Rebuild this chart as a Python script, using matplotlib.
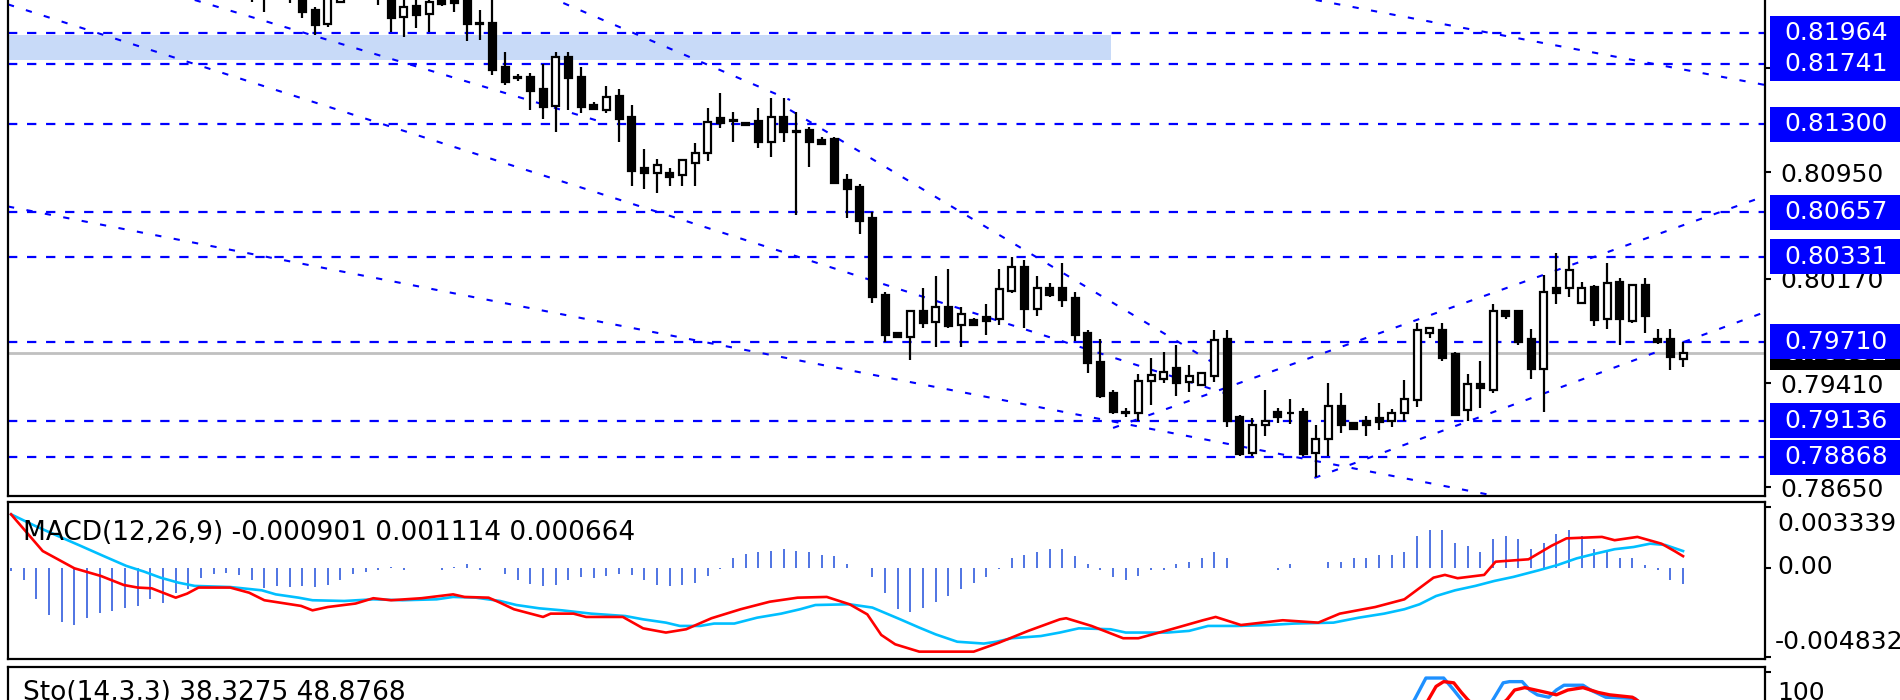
import matplotlib
matplotlib.use("Agg")
import matplotlib.pyplot as plt
import numpy as np
from matplotlib.patches import Rectangle
from matplotlib.transforms import blended_transform_factory

plt.rcParams['font.family'] = ['DejaVu Sans']
plt.rcParams['lines.scale_dashes'] = False

# ---- price data (bars 19..132) ----
first_bar = 19
opens = [0.82353, 0.82304, 0.82240, 0.82280, 0.82256, 0.82134, 0.82032, 0.82195, 0.82270, 0.82330,
         0.82256, 0.82244, 0.82085, 0.82163, 0.82105, 0.82219, 0.82226, 0.82231, 0.82041, 0.82041,
         0.81720, 0.81647, 0.81647, 0.81555, 0.81433, 0.81788, 0.81647, 0.81440, 0.81404, 0.81508,
         0.81350, 0.80978, 0.80941, 0.80946, 0.80929, 0.81014, 0.81087, 0.81343, 0.81331, 0.81311,
         0.81326, 0.81173, 0.81350, 0.81248, 0.81258, 0.81185, 0.81190, 0.80893, 0.80844, 0.80613,
         0.80053, 0.79773, 0.79744, 0.79939, 0.79858, 0.79963, 0.79834, 0.79870, 0.79895, 0.79875,
         0.80083, 0.80260, 0.79948, 0.80102, 0.80102, 0.80029, 0.79773, 0.79566, 0.79335, 0.79199,
         0.79189, 0.79425, 0.79437, 0.79517, 0.79420, 0.79396, 0.79461, 0.79729, 0.79160, 0.78902,
         0.79100, 0.79201, 0.79194, 0.79201, 0.78902, 0.78999, 0.79242, 0.79116, 0.79135, 0.79152,
         0.79135, 0.79189, 0.79286, 0.79773, 0.79797, 0.79622, 0.79213, 0.79403, 0.79359, 0.79939,
         0.79939, 0.79729, 0.79510, 0.80102, 0.80102, 0.79997, 0.80109, 0.79875, 0.80150, 0.79866,
         0.80126, 0.79729, 0.79729, 0.79583]
highs = [0.82402, 0.82377, 0.82330, 0.82329, 0.82304, 0.82158, 0.82256, 0.82317, 0.82360, 0.82400,
         0.82304, 0.82292, 0.82219, 0.82212, 0.82231, 0.82256, 0.82256, 0.82268, 0.82134, 0.82219,
         0.81830, 0.81667, 0.81672, 0.81740, 0.81830, 0.81830, 0.81720, 0.81463, 0.81579, 0.81555,
         0.81440, 0.81117, 0.81044, 0.80978, 0.81049, 0.81160, 0.81416, 0.81530, 0.81391, 0.81311,
         0.81416, 0.81489, 0.81489, 0.81391, 0.81282, 0.81209, 0.81209, 0.80936, 0.80863, 0.80661,
         0.80077, 0.79778, 0.79939, 0.80102, 0.80192, 0.80240, 0.79963, 0.79883, 0.79987, 0.80240,
         0.80333, 0.80308, 0.80192, 0.80143, 0.80284, 0.80077, 0.79797, 0.79729, 0.79359, 0.79225,
         0.79476, 0.79590, 0.79639, 0.79688, 0.79542, 0.79493, 0.79797, 0.79797, 0.79177, 0.79152,
         0.79359, 0.79225, 0.79291, 0.79225, 0.79104, 0.79408, 0.79335, 0.79128, 0.79169, 0.79267,
         0.79218, 0.79432, 0.79846, 0.79814, 0.79846, 0.79639, 0.79476, 0.79573, 0.79987, 0.79939,
         0.79939, 0.79802, 0.80199, 0.80357, 0.80338, 0.80150, 0.80126, 0.80284, 0.80175, 0.80126,
         0.80175, 0.79802, 0.79802, 0.79712]
lows = [0.82195, 0.82122, 0.82215, 0.82188, 0.82073, 0.81951, 0.82007, 0.82188, 0.82230, 0.82250,
        0.82170, 0.81971, 0.81934, 0.82000, 0.81971, 0.82163, 0.82122, 0.81910, 0.81915, 0.81659,
        0.81586, 0.81616, 0.81404, 0.81336, 0.81246, 0.81404, 0.81379, 0.81404, 0.81379, 0.81173,
        0.80849, 0.80824, 0.80800, 0.80849, 0.80849, 0.80849, 0.81034, 0.81270, 0.81173, 0.81287,
        0.81124, 0.81058, 0.81173, 0.80637, 0.80990, 0.81148, 0.80868, 0.80613, 0.80498, 0.79992,
        0.79712, 0.79744, 0.79578, 0.79810, 0.79671, 0.79810, 0.79671, 0.79834, 0.79761, 0.79834,
        0.80065, 0.79810, 0.79900, 0.80041, 0.79968, 0.79719, 0.79486, 0.79298, 0.79184, 0.79164,
        0.79135, 0.79250, 0.79413, 0.79315, 0.79347, 0.79396, 0.79420, 0.79091, 0.78877, 0.78877,
        0.79023, 0.79116, 0.79111, 0.78877, 0.78722, 0.78877, 0.79043, 0.79072, 0.79023, 0.79067,
        0.79091, 0.79135, 0.79233, 0.79736, 0.79573, 0.79170, 0.79135, 0.79225, 0.79340, 0.79875,
        0.79688, 0.79437, 0.79201, 0.79987, 0.80036, 0.79992, 0.79827, 0.79802, 0.79688, 0.79851,
        0.79778, 0.79695, 0.79505, 0.79530]
closes = [0.82256, 0.82219, 0.82300, 0.82231, 0.82122, 0.82024, 0.82231, 0.82268, 0.82330, 0.82280,
          0.82219, 0.82073, 0.82153, 0.82097, 0.82195, 0.82178, 0.82188, 0.82032, 0.82032, 0.81696,
          0.81611, 0.81640, 0.81545, 0.81428, 0.81788, 0.81635, 0.81428, 0.81409, 0.81501, 0.81336,
          0.80961, 0.80941, 0.81002, 0.80912, 0.81039, 0.81092, 0.81319, 0.81306, 0.81321, 0.81297,
          0.81173, 0.81350, 0.81246, 0.81243, 0.81173, 0.81153, 0.80873, 0.80824, 0.80596, 0.80041,
          0.79761, 0.79744, 0.79939, 0.79851, 0.79963, 0.79827, 0.79914, 0.79834, 0.79866, 0.80094,
          0.80260, 0.79948, 0.80102, 0.80053, 0.80016, 0.79761, 0.79554, 0.79315, 0.79201, 0.79189,
          0.79427, 0.79469, 0.79493, 0.79413, 0.79461, 0.79481, 0.79724, 0.79135, 0.78895, 0.79104,
          0.79135, 0.79164, 0.79189, 0.78895, 0.78999, 0.79242, 0.79100, 0.79072, 0.79100, 0.79128,
          0.79194, 0.79291, 0.79797, 0.79814, 0.79590, 0.79177, 0.79403, 0.79371, 0.79939, 0.79900,
          0.79712, 0.79510, 0.80077, 0.80065, 0.80235, 0.80102, 0.79870, 0.80143, 0.79875, 0.80126,
          0.79900, 0.79712, 0.79598, 0.79632]

current_price = 0.79632
levels = [0.81964, 0.81741, 0.81300, 0.80657, 0.80331, 0.79710, 0.79136, 0.78868]
price_ticks = [0.81710, 0.80950, 0.80170, 0.79410, 0.78650]
price_tick_labels = ['', '0.80950', '0.80170', '0.79410', '0.78650']  # top one sits under a level box
zone_low, zone_high, zone_end = 0.81769, 0.81951, 86.8

# trend lines: (bar0, price0, bar1, price1)
trend_lines = [
    (-0.24, 0.82175, 97.0, 0.79301),
    (14.5, 0.82207, 46.5, 0.81320),
    (43.6, 0.82185, 61.5, 0.81477),
    (61.5, 0.81404, 94.8, 0.79564),
    (-0.24, 0.80699, 117.6, 0.78578),
    (103.0, 0.82207, 138.5, 0.81586),
    (87.0, 0.79082, 138.5, 0.80776),
    (102.9, 0.78717, 138.5, 0.79929),
]

# ---- MACD ----
macd_hist = [-0.00015, -0.00065, -0.00169, -0.00254, -0.00291, -0.00309, -0.00272, -0.00242, -0.00232, -0.00214,
             -0.00205, -0.00169, -0.00187, -0.00133, -0.00114, -0.00051, -0.00033, -0.00024, -0.00036, -0.00065,
             -0.00105, -0.00096, -0.00102, -0.00096, -0.00102, -0.00091, -0.00065, -0.00033, -0.00018, -0.00011,
             0.00007, -0.00011, 0.0, 0.0, -0.00011, 0.00007, 0.00022, -0.00011, 0.0, -0.00029,
             -0.00065, -0.00087, -0.00096, -0.00091, -0.00065, -0.00047, -0.00051, -0.00042, -0.00029, -0.00036,
             -0.00065, -0.00091, -0.00096, -0.00091, -0.00078, -0.00042, -0.00005, 0.00054, 0.00080, 0.00091,
             0.00094, 0.00104, 0.00094, 0.00091, 0.00073, 0.00067, 0.00022, 0.0, -0.00047, -0.00133,
             -0.00223, -0.00236, -0.00218, -0.00182, -0.00151, -0.00114, -0.00078, -0.00047, -0.00005, 0.00054,
             0.00073, 0.00091, 0.00104, 0.00104, 0.00067, 0.00022, -0.00011, -0.00047, -0.00065, -0.00042,
             -0.00011, -0.00011, 0.00022, 0.00036, 0.00054, 0.00091, 0.00054, 0.0, 0.0, 0.0,
             -0.00011, 0.00022, 0.0, 0.0, 0.00036, 0.00036, 0.00054, 0.00054, 0.00073, 0.00073,
             0.00091, 0.00176, 0.00207, 0.00207, 0.00140, 0.00122, 0.00091, 0.00158, 0.00176, 0.00158,
             0.00104, 0.00140, 0.00189, 0.00207, 0.00176, 0.00104, 0.00091, 0.00054, 0.00054, 0.00018,
             -0.00011, -0.00065, -0.00084]
red_x = [0.0, 2.5, 3.7, 5.0, 7.1, 8.9, 10.0, 11.1, 13.0, 13.9, 14.8, 17.3, 18.8, 20.0, 22.9, 23.8, 25.0,
         27.2, 28.6, 30.0, 32.4, 34.9, 35.8, 37.7, 38.6, 39.7, 42.0, 42.6, 44.4, 45.4, 48.3, 49.9, 51.7,
         53.3, 55.3, 57.6, 59.9, 62.1, 64.4, 66.2, 67.6, 68.7, 69.8, 71.7, 76.0, 78.0, 80.3, 82.8, 83.3,
         85.3, 87.8, 89.0, 91.6, 94.1, 95.1, 97.1, 100.4, 103.2, 104.9, 107.7, 110.0, 112.3, 113.2, 114.2,
         116.3, 117.2, 119.8, 121.6, 122.8, 125.6, 126.6, 128.4, 130.3, 131.4, 132.0]
red_v = [0.00294, 0.00094, 0.00049, 0.0, -0.00042, -0.00091, -0.00105, -0.00109, -0.00160, -0.00138,
         -0.00105, -0.00105, -0.00133, -0.00174, -0.00205, -0.00229, -0.00211, -0.00192, -0.00163, -0.00174,
         -0.00163, -0.00142, -0.00156, -0.00160, -0.00187, -0.00223, -0.00265, -0.00247, -0.00247, -0.00265,
         -0.00265, -0.00327, -0.00350, -0.00332, -0.00272, -0.00223, -0.00182, -0.00160, -0.00156, -0.00196,
         -0.00251, -0.00363, -0.00414, -0.00454, -0.00454, -0.00405, -0.00341, -0.00278, -0.00272, -0.00314,
         -0.00381, -0.00381, -0.00332, -0.00283, -0.00265, -0.00309, -0.00283, -0.00296, -0.00247, -0.00211,
         -0.00169, -0.00051, -0.00036, -0.00054, -0.00036, 0.00036, 0.00049, 0.00122, 0.00163, 0.00171,
         0.00153, 0.00171, 0.00134, 0.00091, 0.00066]
cyan_x = [0.0, 1.9, 3.7, 5.5, 7.3, 9.1, 10.5, 11.8, 13.2, 14.5, 17.3, 19.8, 20.9, 22.7, 23.8, 26.3, 28.6,
          30.9, 33.6, 34.9, 36.7, 38.6, 39.9, 41.7, 43.5, 45.8, 48.5, 49.9, 51.7, 52.8, 54.4, 55.5, 57.1,
          58.9, 60.8, 62.3, 63.5, 66.2, 68.0, 70.2, 71.7, 73.0, 74.7, 76.8, 77.8, 79.0, 81.3, 82.8, 84.3,
          86.8, 88.0, 91.3, 93.0, 94.5, 96.8, 99.3, 101.3, 104.4, 106.4, 108.4, 110.0, 111.2, 112.5, 114.0,
          115.6, 117.1, 118.6, 120.6, 122.1, 123.6, 125.1, 126.6, 128.1, 129.4, 130.6, 132.0]
cyan_v = [0.00294, 0.00231, 0.00176, 0.00122, 0.00067, 0.00013, -0.00018, -0.00051, -0.00078, -0.00096,
          -0.00102, -0.00120, -0.00142, -0.00160, -0.00174, -0.00178, -0.00169, -0.00174, -0.00169, -0.00156,
          -0.00160, -0.00178, -0.00200, -0.00218, -0.00229, -0.00247, -0.00260, -0.00278, -0.00296, -0.00314,
          -0.00314, -0.00301, -0.00301, -0.00269, -0.00247, -0.00223, -0.00200, -0.00196, -0.00214, -0.00278,
          -0.00323, -0.00360, -0.00400, -0.00410, -0.00400, -0.00381, -0.00369, -0.00350, -0.00327, -0.00332,
          -0.00350, -0.00350, -0.00341, -0.00314, -0.00314, -0.00309, -0.00301, -0.00296, -0.00269, -0.00247,
          -0.00223, -0.00196, -0.00151, -0.00120, -0.00096, -0.00069, -0.00047, -0.00011, 0.00018, 0.00054,
          0.00080, 0.00104, 0.00116, 0.00134, 0.00127, 0.00094]
macd_ticks = [0.003339, 0.0, -0.004832]

# ---- Stochastic ----
sto_k_x = [109.5, 110.8, 111.7, 113.1, 113.9, 114.5, 115.8, 117.0, 117.8, 118.3, 119.3, 119.9, 120.5,
           121.4, 122.0, 122.6, 124.1, 124.7, 125.9, 128.2, 130.5, 132.0]
sto_k_v = [55, 77, 95, 95, 85, 77, 55, 77, 91, 92, 92, 85, 81, 79, 85, 89, 89, 85, 79, 78, 55, 38.3]
sto_d_x = [111.0, 111.9, 112.5, 113.1, 113.9, 114.5, 115.0, 116.5, 118.1, 118.7, 119.5, 121.2, 122.0,
           122.9, 124.1, 125.3, 126.2, 128.0, 130.0, 132.0]
sto_d_v = [60, 77, 88, 92, 91, 83, 77, 62, 77, 85, 87, 83, 81, 85, 87, 83, 81, 79, 65, 48.9]

W, H = 1900, 700
fig = plt.figure(figsize=(19, 7), dpi=100)
fig.patch.set_facecolor('white')


def px_axes(x0, y0, x1, y1):
    return fig.add_axes([x0 / W, 1 - y1 / H, (x1 - x0) / W, (y1 - y0) / H])


XLIM = (-0.24, 138.47)
BLUE = '#0000FF'
FS = 18      # right-hand scale labels
FS_T = 19    # indicator titles

# ---------------- main panel ----------------
ax = px_axes(8, 0, 1765, 496)
ymin, ymax = 0.78585, 0.82207
ax.set_xlim(*XLIM)
ax.set_ylim(ymin, ymax)
ppx = (ymax - ymin) / 496.0

ax.add_patch(Rectangle((XLIM[0] - 1, zone_low), zone_end - XLIM[0] + 1, zone_high - zone_low,
                       facecolor='#C8DAF8', edgecolor='none', zorder=0))
ax.axhline(current_price, color='#C0C0C0', lw=2.0, zorder=1)
for lv in levels:
    ax.axhline(lv, color=BLUE, lw=1.6, ls=(0, (6.7, 7.0)), zorder=2)
for b0, p0, b1, p1 in trend_lines:
    ax.plot([b0, b1], [p0, p1], color=BLUE, lw=1.5, ls=(0, (4.5, 9.0)), zorder=2)

o = np.array(opens); h = np.array(highs); l = np.array(lows); c = np.array(closes)
bars = np.arange(first_bar, first_bar + len(o))
up = c >= o
ax.vlines(bars, l, h, color='black', lw=1.6, zorder=3)
ax.bar(bars, np.abs(c - o), bottom=np.minimum(o, c), width=0.55,
       color=np.where(up, 'white', 'black'), edgecolor='black', lw=1.6, zorder=4)

ax.spines['top'].set_visible(False)
for s in ['left', 'bottom', 'right']:
    ax.spines[s].set_linewidth(1.6)
ax.set_xticks([])
ax.yaxis.tick_right()
ax.set_yticks(price_ticks)
ax.set_yticklabels(price_tick_labels, fontsize=FS)
ax.tick_params(axis='y', direction='out', length=4, width=1.5, pad=7)

trans = blended_transform_factory(fig.transFigure, ax.transData)
ax.add_patch(Rectangle((1770 / W, current_price - 17 * ppx), 130 / W, 34 * ppx, transform=trans,
                       facecolor='black', edgecolor='none', clip_on=False, zorder=9))
ax.text(1784 / W, current_price, f'{current_price:.5f}', transform=trans, color='white',
        fontsize=FS, va='center', ha='left', clip_on=False, zorder=9)
for lv in levels:
    ax.add_patch(Rectangle((1770 / W, lv - 17.5 * ppx), 130 / W, 35 * ppx, transform=trans,
                           facecolor=BLUE, edgecolor='none', clip_on=False, zorder=10))
    ax.text(1784 / W, lv, f'{lv:.5f}', transform=trans, color='white', fontsize=FS,
            va='center', ha='left', clip_on=False, zorder=11)

# ---------------- MACD panel ----------------
ax2 = px_axes(8, 502, 1765, 659)
ax2.set_xlim(*XLIM)
ax2.set_ylim(-0.0049409, 0.0036114)
ax2.vlines(np.arange(len(macd_hist)), 0, macd_hist, color='#4169E1', lw=1.3)
ax2.plot(cyan_x, cyan_v, color='#00BFFF', lw=1.9)
ax2.plot(red_x, red_v, color='red', lw=1.9)
for s in ax2.spines.values():
    s.set_linewidth(1.6)
ax2.set_xticks([])
ax2.yaxis.tick_right()
ax2.set_yticks(macd_ticks)
ax2.set_yticklabels([])
ax2.tick_params(axis='y', direction='out', length=4, width=1.5)
fig.text(23 / W, 1 - 533 / H, 'MACD(12,26,9) -0.000901 0.001114 0.000664', fontsize=FS_T, va='center')
fig.text(1777 / W, 1 - 524 / H, '0.003339', fontsize=FS, va='center')
fig.text(1777 / W, 1 - 567 / H, '0.00', fontsize=FS, va='center')
fig.text(1775 / W, 1 - 642 / H, '-0.004832', fontsize=FS, va='center')

# ---------------- Stochastic panel (cut by the image edge) ----------------
ax3 = px_axes(8, 667, 1765, 797)
ax3.set_xlim(*XLIM)
ax3.set_ylim(-4.2, 104.2)
ax3.plot(sto_k_x, sto_k_v, color='#1E90FF', lw=2.4)
ax3.plot(sto_d_x, sto_d_v, color='red', lw=2.4)
for s in ax3.spines.values():
    s.set_linewidth(1.6)
ax3.set_xticks([])
ax3.yaxis.tick_right()
ax3.set_yticks([100])
ax3.set_yticklabels([])
ax3.tick_params(axis='y', direction='out', length=4, width=1.5)
fig.text(23 / W, 1 - 693 / H, 'Sto(14,3,3) 38.3275 48.8768', fontsize=FS_T, va='center')
fig.text(1777 / W, 1 - 693 / H, '100', fontsize=FS, va='center')

fig.savefig('out.png', dpi=100, facecolor='white')
